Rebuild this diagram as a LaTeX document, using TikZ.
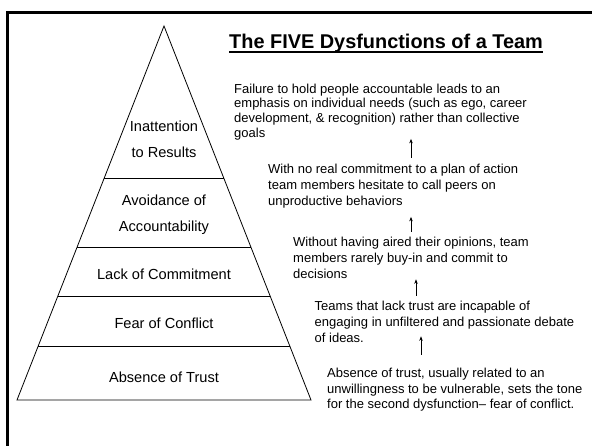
\documentclass[tikz,border=0pt]{standalone}
\usepackage{fontspec}
\setmainfont{Liberation Sans}
\usetikzlibrary{positioning,calc,arrows.meta}

\begin{document}
\begin{tikzpicture}[x=1pt,y=-1pt,
    layer/.style={font=\fontsize{14.6}{26}\selectfont,align=center,inner sep=0pt,anchor=base},
    note/.style={font=\fontsize{13}{16}\selectfont,align=left,inner sep=0pt,anchor=base west},
    up/.style={-{Stealth[length=4.5pt,width=3.5pt]},line width=0.6pt}]
    \useasboundingbox (0,0) rectangle (592,446);

    % Slide frame (top and left edge only)
    \draw[line width=2.6pt] (7.5,446) -- (7.5,12.5) -- (592,12.5);

    % Pyramid
    \coordinate (apex) at (164,26);
    \coordinate (base_left) at (17,400);
    \coordinate (base_right) at (311,400);
    \draw[line width=0.8pt] (base_left) -- (apex) -- (base_right) -- cycle;
    \foreach \y in {178,247,296,346}
        \draw[line width=0.8pt] ($(apex)!{(\y-26)/374}!(base_left)$) -- ($(apex)!{(\y-26)/374}!(base_right)$);

    % Layer names (base = baseline of the last line)
    \node (results) [layer] at (164,158) {Inattention\\to Results};
    \node (accountability) [layer] at (164,232) {Avoidance of\\Accountability};
    \node (commitment) [layer] at (164,280) {Lack of Commitment};
    \node (conflict) [layer] at (164,329) {Fear of Conflict};
    \node (trust) [layer] at (164,382) {Absence of Trust};

    % Title
    \node (title) [inner sep=0pt,anchor=base west,font=\fontsize{19.9}{24}\bfseries] at (229,49)
        {The FIVE Dysfunctions of a Team};
    \draw[line width=1.5pt] ([yshift=-3pt]title.base west) -- ([yshift=-3pt]title.base east);

    % Explanations, top to bottom
    \node (note1) [note,font=\fontsize{13}{14.8}\selectfont] at (234,137.5)
        {Failure to hold people accountable leads to an\\emphasis on individual needs (such as ego, career\\development, \& recognition) rather than collective\\goals};
    \node (note2) [note] at (268,206)
        {With no real commitment to a plan of action\\team members hesitate to call peers on\\unproductive behaviors};
    \node (note3) [note] at (293,279)
        {Without having aired their opinions, team\\members rarely buy-in and commit to\\decisions};
    \node (note4) [note] at (314.5,343)
        {Teams that lack trust are incapable of\\engaging in unfiltered and passionate debate\\of ideas.};
    \node (note5) [note] at (327,409)
        {Absence of trust, usually related to an\\unwillingness to be vulnerable, sets the tone\\for the second dysfunction– fear of conflict.};

    \draw[up] ([yshift=6.5pt]note2.north -| 411,0) -- ([yshift=1.5pt]note1.south -| 411,0);
    \draw[up] ([yshift=5.5pt]note3.north -| 411,0) -- ([yshift=-8pt]note2.south -| 411,0);
    \draw[up] ([yshift=5.5pt]note4.north -| 416,0) -- (note3.south -| 416,0);
    \draw[up] ([yshift=12.5pt]note5.north -| 421,0) -- ([yshift=7pt]note4.south -| 421,0);
\end{tikzpicture}
\end{document}
